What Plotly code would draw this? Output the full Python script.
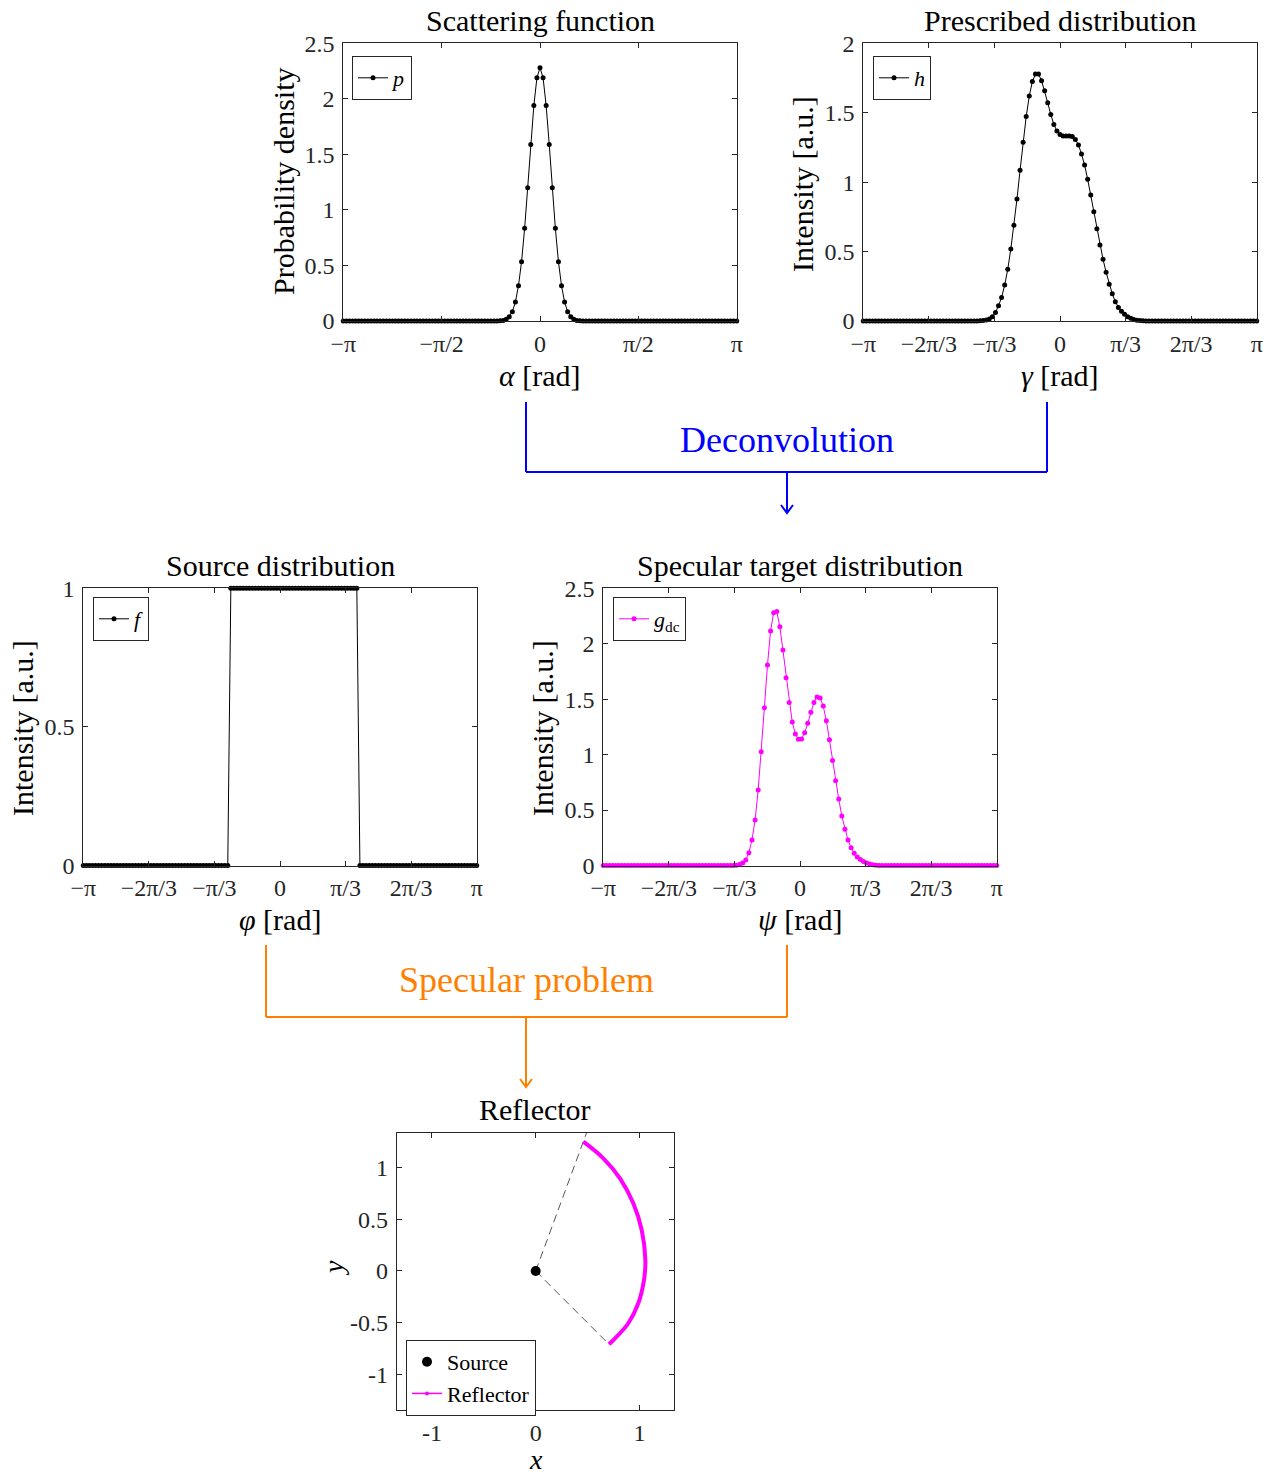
import numpy as np
import plotly.graph_objects as go

W, H = 1274, 1477
PI = np.pi
FONT = "Liberation Serif"
AX = "#262626"
MAGENTA = "#FF00FF"
BLUE = "#0000FF"
ORANGE = "#FF8000"

# ---------------- data ----------------
theta = np.linspace(-PI, PI, 129)      # sample grid for p, h, f
theta_dc = np.linspace(-PI, PI, 128)   # sample grid for g_dc

p_vals = [
    0, 0, 0, 0, 0, 0, 0, 0, 0, 0,
    0, 0, 0, 0, 0, 0, 0, 0, 0, 0,
    0, 0, 0, 0, 0, 0, 0, 0, 0, 0,
    0, 0, 0, 0, 0, 0, 0, 0, 0, 0,
    0, 0, 0, 0, 0, 0, 0, 0, 0, 0,
    0,
    0.002, 0.005, 0.015, 0.039, 0.084, 0.171, 0.318, 0.534, 0.834, 1.20,
    1.59, 1.94, 2.19, 2.28, 2.19, 1.94, 1.59, 1.20, 0.834, 0.534,
    0.318, 0.171, 0.084, 0.039, 0.015, 0.005, 0.002,
    0, 0, 0, 0, 0, 0, 0, 0, 0, 0,
    0, 0, 0, 0, 0, 0, 0, 0, 0, 0,
    0, 0, 0, 0, 0, 0, 0, 0, 0, 0,
    0, 0, 0, 0, 0, 0, 0, 0, 0, 0,
    0, 0, 0, 0, 0, 0, 0, 0, 0, 0,
    0,
]

h_vals = [
    0, 0, 0, 0, 0, 0, 0, 0, 0, 0,
    0, 0, 0, 0, 0, 0, 0, 0, 0, 0,
    0, 0, 0, 0, 0, 0, 0, 0, 0, 0,
    0, 0, 0, 0, 0, 0, 0, 0,
    0.001, 0.003, 0.007, 0.015, 0.031, 0.062, 0.110, 0.170, 0.259, 0.372,
    0.519, 0.689, 0.879, 1.085, 1.287, 1.472, 1.620, 1.724, 1.778, 1.778,
    1.731, 1.659, 1.572, 1.488, 1.416, 1.368, 1.344, 1.332, 1.332, 1.332,
    1.328, 1.308, 1.268, 1.203, 1.124, 1.020, 0.907, 0.787, 0.665, 0.547,
    0.444, 0.351, 0.264, 0.197, 0.139, 0.098, 0.070, 0.048, 0.031, 0.019,
    0.011, 0.006, 0.003, 0.001,
    0, 0, 0, 0, 0, 0, 0, 0, 0, 0,
    0, 0, 0, 0, 0, 0, 0, 0, 0, 0,
    0, 0, 0, 0, 0, 0, 0, 0, 0, 0,
    0, 0, 0, 0, 0, 0, 0,
]

f_vals = [
    0, 0, 0, 0, 0, 0, 0, 0, 0, 0,
    0, 0, 0, 0, 0, 0, 0, 0, 0, 0,
    0, 0, 0, 0, 0, 0, 0, 0, 0, 0,
    0, 0, 0, 0, 0, 0, 0, 0, 0, 0,
    0, 0, 0, 0, 0, 0, 0, 0,
    1, 1, 1, 1, 1, 1, 1, 1, 1, 1,
    1, 1, 1, 1, 1, 1, 1, 1, 1, 1,
    1, 1, 1, 1, 1, 1, 1, 1, 1, 1,
    1, 1, 1, 1, 1, 1, 1, 1, 1, 1,
    1, 1,
    0, 0, 0, 0, 0, 0, 0, 0, 0, 0,
    0, 0, 0, 0, 0, 0, 0, 0, 0, 0,
    0, 0, 0, 0, 0, 0, 0, 0, 0, 0,
    0, 0, 0, 0, 0, 0, 0, 0, 0,
]

g_dc_vals = [
    0, 0, 0, 0, 0, 0, 0, 0, 0, 0,
    0, 0, 0, 0, 0, 0, 0, 0, 0, 0,
    0, 0, 0, 0, 0, 0, 0, 0, 0, 0,
    0, 0, 0, 0, 0, 0, 0, 0, 0, 0,
    0, 0,
    0.001, 0.003, 0.008, 0.022, 0.050, 0.116, 0.230, 0.410, 0.681, 1.026,
    1.423, 1.808, 2.115, 2.280, 2.290, 2.154, 1.943, 1.694, 1.471, 1.294,
    1.186, 1.138, 1.141, 1.198, 1.282, 1.381, 1.471, 1.519, 1.510, 1.438,
    1.306, 1.135, 0.948, 0.765, 0.600, 0.446, 0.326, 0.230, 0.161, 0.110,
    0.077, 0.053, 0.035, 0.022, 0.013, 0.007, 0.003, 0.001,
    0, 0, 0, 0, 0, 0, 0, 0, 0, 0,
    0, 0, 0, 0, 0, 0, 0, 0, 0, 0,
    0, 0, 0, 0, 0, 0, 0, 0, 0, 0,
    0, 0, 0, 0, 0, 0, 0, 0,
]

assert len(p_vals) == 129 and len(h_vals) == 129 and len(f_vals) == 129
assert len(g_dc_vals) == 128

refl_x = [0.706, 0.780, 0.892, 0.988, 1.043, 1.056, 1.021, 0.940, 0.812, 0.651, 0.459]
refl_y = [-0.710, -0.636, -0.506, -0.313, -0.087, 0.106, 0.397, 0.655, 0.897, 1.091, 1.252]
source_x = [0.0]
source_y = [0.0]
ray_x = [0.0, 0.706, None, 0.0, 0.52]
ray_y = [0.0, -0.710, None, 0.0, 1.42]

ticks_half = [-PI, -PI / 2, 0, PI / 2, PI]
ticks_half_txt = ["−π", "−π/2", "0", "π/2", "π"]
ticks_third = [-PI, -2 * PI / 3, -PI / 3, 0, PI / 3, 2 * PI / 3, PI]
ticks_third_txt = ["−π", "−2π/3", "−π/3", "0", "π/3", "2π/3", "π"]
y25 = [0, 0.5, 1, 1.5, 2, 2.5]
y25_txt = ["0", "0.5", "1", "1.5", "2", "2.5"]
y2 = [0, 0.5, 1, 1.5, 2]
y2_txt = ["0", "0.5", "1", "1.5", "2"]
y1 = [0, 0.5, 1]
y1_txt = ["0", "0.5", "1"]
refl_ticks = [-1, 0, 1]
refl_ticks_txt = ["-1", "0", "1"]
refl_yticks = [-1, -0.5, 0, 0.5, 1]
refl_yticks_txt = ["-1", "-0.5", "0", "0.5", "1"]

# ---------------- layout helpers ----------------
def fx(x):
    return x / W


def fy(y):
    return 1 - y / H


def base_axis(rng, tv, tt, anchor, standoff):
    return dict(range=rng, anchor=anchor, tickvals=tv, ticktext=tt,
                ticks="inside", ticklen=5, tickwidth=1, tickcolor=AX, showline=True,
                linecolor=AX, linewidth=1, mirror="ticks", showgrid=False, zeroline=False,
                tickfont=dict(family=FONT, size=24, color=AX), tickangle=0,
                ticklabelstandoff=standoff, fixedrange=True, automargin=False)


def xax(l, r, rng, tv, tt, anchor):
    d = base_axis(rng, tv, tt, anchor, 1)
    d["domain"] = [fx(l), fx(r)]
    return d


def yax(t, b, rng, tv, tt, anchor):
    d = base_axis(rng, tv, tt, anchor, 3)
    d["domain"] = [fy(b), fy(t)]
    return d


fig = go.Figure()

line_k = dict(color="black", width=1)
mk_k = dict(color="black", size=5)

fig.add_trace(go.Scatter(x=theta, y=p_vals, mode="lines+markers", line=line_k, marker=mk_k,
                         name="<i>p</i>", xaxis="x", yaxis="y", legend="legend", cliponaxis=False))
fig.add_trace(go.Scatter(x=theta, y=h_vals, mode="lines+markers", line=line_k, marker=mk_k,
                         name="<i>h</i>", xaxis="x2", yaxis="y2", legend="legend2", cliponaxis=False))
fig.add_trace(go.Scatter(x=theta, y=f_vals, mode="lines+markers", line=line_k, marker=mk_k,
                         name="<i>f</i>", xaxis="x3", yaxis="y3", legend="legend3", cliponaxis=False))
fig.add_trace(go.Scatter(x=theta_dc, y=g_dc_vals, mode="lines+markers",
                         line=dict(color=MAGENTA, width=1), marker=dict(color=MAGENTA, size=5),
                         name="<i>g</i><sub>dc</sub>", xaxis="x4", yaxis="y4", legend="legend4",
                         cliponaxis=False))
fig.add_trace(go.Scatter(x=ray_x, y=ray_y, mode="lines", line=dict(color="#555555", width=1, dash="8px,5px"),
                         showlegend=False, xaxis="x5", yaxis="y5", hoverinfo="skip"))
fig.add_trace(go.Scatter(x=source_x, y=source_y, mode="markers", marker=dict(color="black", size=10),
                         name="Source", xaxis="x5", yaxis="y5", legend="legend5"))
fig.add_trace(go.Scatter(x=refl_x, y=refl_y, mode="lines", line=dict(color=MAGENTA, width=4, shape="spline"),
                         showlegend=False, xaxis="x5", yaxis="y5"))
# legend entry for the reflector (thin line with a dot, as in the reference legend)
fig.add_trace(go.Scatter(x=[None], y=[None], mode="lines+markers", line=dict(color=MAGENTA, width=1.5),
                         marker=dict(color=MAGENTA, size=4), name="Reflector",
                         xaxis="x5", yaxis="y5", legend="legend5"))

lay = dict(
    template="none",
    width=W, height=H, autosize=False,
    margin=dict(l=0, r=0, t=0, b=0, pad=0),
    paper_bgcolor="white", plot_bgcolor="white",
    showlegend=True,
    xaxis=xax(343.3, 736.7, [-PI, PI], ticks_half, ticks_half_txt, "y"),
    yaxis=yax(43.3, 321, [0, 2.5], y25, y25_txt, "x"),
    xaxis2=xax(863.3, 1256.7, [-PI, PI], ticks_third, ticks_third_txt, "y2"),
    yaxis2=yax(43.3, 321, [0, 2], y2, y2_txt, "x2"),
    xaxis3=xax(83.3, 476.7, [-PI, PI], ticks_third, ticks_third_txt, "y3"),
    yaxis3=yax(588.3, 865.5, [0, 1], y1, y1_txt, "x3"),
    xaxis4=xax(603.3, 996.7, [-PI, PI], ticks_third, ticks_third_txt, "y4"),
    yaxis4=yax(588.3, 865.5, [0, 2.5], y25, y25_txt, "x4"),
    xaxis5=xax(396.7, 674, [-1.339, 1.332], refl_ticks, refl_ticks_txt, "y5"),
    yaxis5=yax(1132.7, 1410, [-1.346, 1.339], refl_yticks, refl_yticks_txt, "x5"),
)

def leg(l, t):
    return dict(x=fx(l), y=fy(t), xanchor="left", yanchor="top", bgcolor="white",
                bordercolor=AX, borderwidth=1, font=dict(family=FONT, size=22, color="black"),
                itemwidth=30, tracegroupgap=0)

lay["legend"] = leg(352, 56)
lay["legend2"] = leg(873, 56)
lay["legend3"] = leg(93, 597)
lay["legend4"] = leg(613, 597)
lay["legend5"] = leg(406, 1340)
fig.update_layout(**lay)

anns = []

def text(x, y, s, size=30, color="black", angle=0):
    anns.append(dict(x=fx(x), y=fy(y), xref="paper", yref="paper", text=s, showarrow=False,
                     xanchor="center", yanchor="middle", textangle=angle,
                     font=dict(family=FONT, size=size, color=color)))

text(540, 20, "Scattering function")
text(1060, 20, "Prescribed distribution")
text(280, 565, "Source distribution")
text(800, 565, "Specular target distribution")
text(535, 1109, "Reflector")

text(540, 376, "<i>α</i> [rad]")
text(1060, 376, "<i>γ</i> [rad]")
text(280, 919, "<i>φ</i> [rad]")
text(800, 919, "<i>ψ</i> [rad]")
text(536, 1459, "<i>x</i>", size=28)

text(283, 181, "Probability density", angle=-90)
text(803, 184, "Intensity [a.u.]", angle=-90)
text(22, 728, "Intensity [a.u.]", angle=-90)
text(542, 728, "Intensity [a.u.]", angle=-90)
text(333, 1268, "<i>y</i>", angle=-90, size=28)

text(787, 440, "Deconvolution", size=36, color=BLUE)
text(526, 980, "Specular problem", size=36, color=ORANGE)
fig.update_layout(annotations=anns)

shapes = []

def seg(x0, y0, x1, y1, color):
    shapes.append(dict(type="line", xref="paper", yref="paper", x0=fx(x0), y0=fy(y0),
                       x1=fx(x1), y1=fy(y1), line=dict(color=color, width=2)))

def head(x, y, color):
    shapes.append(dict(type="path", xref="paper", yref="paper",
                       path=f"M {fx(x-6)},{fy(y-8)} L {fx(x)},{fy(y)} L {fx(x+6)},{fy(y-8)}",
                       line=dict(color=color, width=2)))

seg(526, 402, 526, 472, BLUE)
seg(526, 472, 1047, 472, BLUE)
seg(1047, 472, 1047, 402, BLUE)
seg(787, 472, 787, 513, BLUE)
head(787, 513, BLUE)

seg(266, 945, 266, 1017, ORANGE)
seg(266, 1017, 787, 1017, ORANGE)
seg(787, 1017, 787, 945, ORANGE)
seg(526, 1017, 526, 1087, ORANGE)
head(526, 1087, ORANGE)

fig.update_layout(shapes=shapes)

fig.write_html(
    "out.html",
    config={"displayModeBar": False, "staticPlot": False},
    post_script="document.body.style.margin='0px'; document.body.style.overflow='hidden';",
)
